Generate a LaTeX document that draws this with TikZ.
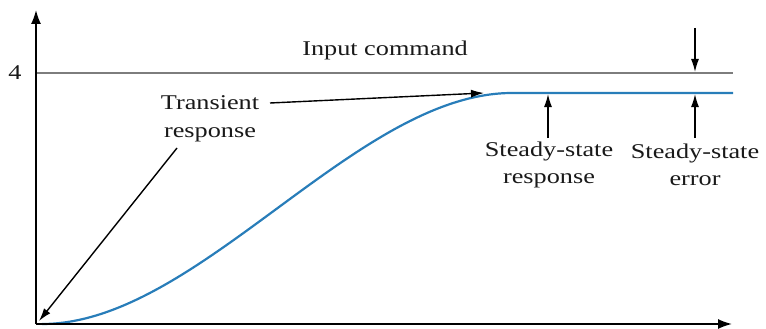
\documentclass[tikz,border=0pt]{standalone}
\usepackage{fontspec}
\setmainfont{Liberation Serif}[FakeStretch=1.25]
\usetikzlibrary{arrows.meta}
\definecolor{curveblue}{RGB}{40,125,185}
\definecolor{cmdgray}{RGB}{125,125,125}
\tikzset{
  axis/.style={line width=1.6pt,-{Latex[length=14pt,width=10pt]}},
  ptr/.style={line width=1.4pt,-{Latex[length=13pt,width=8pt]}},
  lbl/.style={font=\fontsize{21}{27.5}\selectfont,align=center,inner sep=0pt,text=black!90}
}
\begin{document}
\begin{tikzpicture}[x=1pt,y=-1pt]
\useasboundingbox (0,0) rectangle (766,329);
\coordinate (O) at (36,324);
\coordinate (ytop) at (36,10);
\coordinate (xend) at (732,324);
\coordinate (cmdL) at (36,73);
\coordinate (cmdR) at (733,73);
\coordinate (c0) at (42,324);
\coordinate (c1) at (512,93);
\coordinate (c2) at (733,93);
% input command
\draw[cmdgray,line width=2.6pt] (cmdL) -- (cmdR);
% curve
\draw[curveblue,line width=2.2pt] (c0) .. controls (198,324) and (356,93) .. (c1) -- (c2);
% axes
\draw[axis] (O) -- (ytop);
\draw[axis] (O) -- (xend);
% labels
\node[lbl] (four) at (15,73) {4};
\node[lbl] (cmd) at (385,50) {Input command};
\node[lbl] (tr) at (210,119) {Transient\\response};
\node[lbl] (ssr) at (549,165) {Steady-state\\response};
\node[lbl] (sse) at (695,165) {Steady-state\\error};
% pointers
\coordinate (trA) at (270,103);
\coordinate (trB) at (484,93);
\coordinate (trC) at (177,148);
\coordinate (trD) at (39,321);
\draw[ptr] (trA) -- (trB);
\draw[ptr] (trC) -- (trD);
\coordinate (ssrA) at (548,138);
\coordinate (ssrB) at (548,94);
\draw[ptr] (ssrA) -- (ssrB);
\coordinate (sseA) at (695,138);
\coordinate (sseB) at (695,94);
\draw[ptr] (sseA) -- (sseB);
\coordinate (sseC) at (695,28);
\coordinate (sseD) at (695,72);
\draw[ptr] (sseC) -- (sseD);
\end{tikzpicture}
\end{document}
